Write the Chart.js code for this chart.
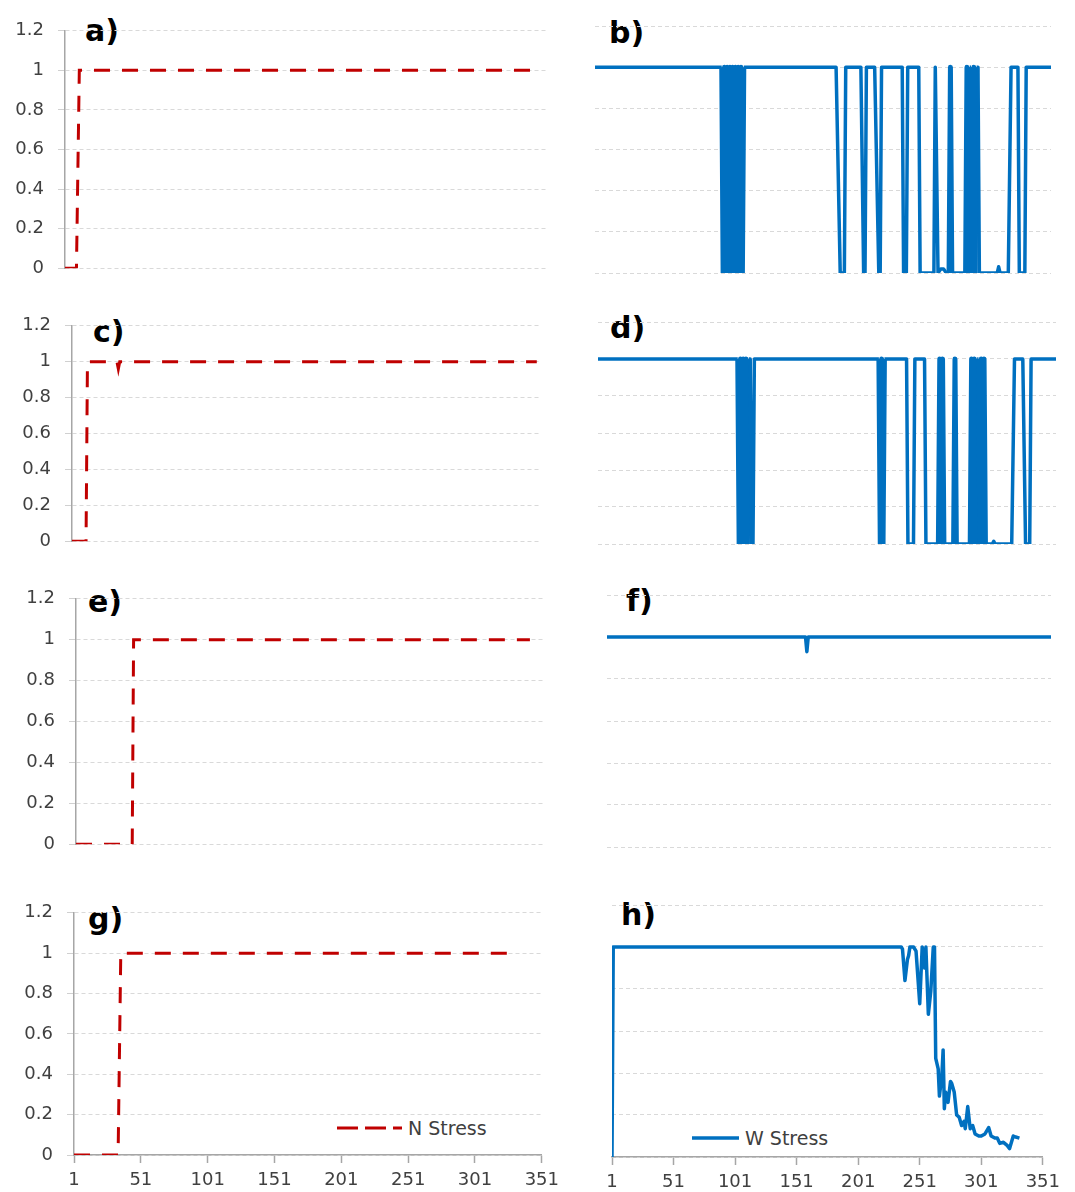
<!DOCTYPE html>
<html>
<head>
<meta charset="utf-8">
<script src="https://cdn.jsdelivr.net/npm/chart.js@4.4.1/dist/chart.umd.min.js"></script>
<style>
  body { margin: 0; background: #fff; width: 1075px; height: 1192px; position: relative; overflow: hidden; }
  .panel { position: absolute; }
  .tag { position: absolute; font: bold 30px "DejaVu Sans", sans-serif; line-height: 30px; color: #000; }
  .leg { position: absolute; height: 24px; display: flex; align-items: center; font: 19px "DejaVu Sans", sans-serif; color: #404040; }
  .leg svg { margin-right: 6px; }
</style>
</head>
<body>
<div class="tag" style="left:85px;top:16px">a)</div>
<div class="tag" style="left:609px;top:18px">b)</div>
<div class="tag" style="left:93px;top:317px">c)</div>
<div class="tag" style="left:610px;top:313px">d)</div>
<div class="tag" style="left:88px;top:587px">e)</div>
<div class="tag" style="left:626px;top:586px">f)</div>
<div class="tag" style="left:88px;top:904px">g)</div>
<div class="tag" style="left:621px;top:900px">h)</div>

<div class="leg" style="left:337px;top:1116px">
  <svg width="65" height="4"><line x1="0" y1="2" x2="65" y2="2" stroke="#c00000" stroke-width="3" stroke-dasharray="21 7"/></svg>N Stress
</div>
<div class="leg" style="left:692px;top:1126px">
  <svg width="47" height="4"><line x1="0" y1="2" x2="47" y2="2" stroke="#0070c0" stroke-width="3.5"/></svg>W Stress
</div>

<script>
// y axis ticks shared by all panels
const yTicks = [0, 0.2, 0.4, 0.6, 0.8, 1, 1.2];
const yTickLabels = ['0', '0.2', '0.4', '0.6', '0.8', '1', '1.2'];
const xTicks = [1, 51, 101, 151, 201, 251, 301, 351];

// N stress (red dashed) - day / value at each vertex
const aDays = [1, 9, 11, 332];
const aVals = [0, 0, 1, 1];
const cDays = [1, 11, 12, 33, 34, 35, 332];
const cVals = [0, 0, 1, 1, 0.96, 1, 1];
const eDays = [1, 42, 43, 332];
const eVals = [0, 0, 1, 1];
const gDays = [1, 34, 36, 332];
const gVals = [0, 0, 1, 1];

// W stress (blue)
const bDays = [1, 93, 94, 95, 96, 97, 98, 99, 100, 101, 102, 103, 104, 105, 106, 107, 108, 109,
  176, 179, 182, 183, 194, 196, 197, 198, 204, 207, 208, 209, 224, 225, 227, 228, 236, 237,
  247, 248, 250, 252, 254, 256, 258, 259, 260, 270, 271, 272, 273, 274, 275, 276, 277, 278,
  279, 280, 281, 293, 294, 295, 301, 303, 308, 309, 313, 314, 332];
const bVals = [1, 1, 0, 1, 0, 1, 0, 1, 0, 1, 0, 1, 0, 1, 0, 1, 0, 1,
  1, 0, 0, 1, 1, 0, 0, 1, 1, 0, 0, 1, 1, 0, 0, 1, 1, 0,
  0, 1, 0, 0.02, 0.02, 0, 0, 1, 0, 0, 1, 0, 1, 1, 0, 1, 0, 1,
  1, 0, 0, 0, 0.03, 0, 0, 1, 1, 0, 0, 1, 1];

const dDays = [1, 102, 103, 104, 105, 106, 107, 108, 109, 110, 111, 112, 113, 114,
  204, 205, 206, 207, 208, 224, 225, 229, 230, 237, 238, 247, 248, 249, 250, 251,
  258, 259, 260, 270, 271, 272, 273, 274, 275, 276, 277, 278, 279, 280, 281,
  286, 287, 288, 300, 302, 308, 310, 313, 314, 332];
const dVals = [1, 1, 0, 1, 0, 1, 0, 1, 0, 1, 1, 0, 0, 1,
  1, 0, 1, 0, 1, 1, 0, 0, 1, 1, 0, 0, 1, 0, 1, 0,
  0, 1, 0, 0, 1, 0, 1, 0, 1, 1, 0, 1, 0, 1, 0,
  0, 0.015, 0, 0, 1, 1, 0, 0, 1, 1];

const fDays = [1, 149, 150, 151, 332];
const fVals = [1, 1, 0.93, 1, 1];

const hDays = [1, 2, 236, 237, 239, 241, 242, 243, 246, 248, 251, 253, 255, 256, 258, 260,
  262, 263, 264, 266, 267, 269, 270, 271, 272, 274, 276, 277, 279, 281, 283, 285, 287,
  288, 290, 292, 294, 296, 299, 301, 304, 307, 309, 312, 314, 316, 319, 322, 324, 327, 329, 332];
const hVals = [0, 1, 1, 0.99, 0.84, 0.94, 0.96, 1, 1, 0.98, 0.73, 1, 0.9, 1, 0.68, 0.79,
  1, 1, 0.47, 0.42, 0.29, 0.39, 0.51, 0.23, 0.31, 0.26, 0.36, 0.35, 0.31, 0.2, 0.19, 0.15, 0.17,
  0.135, 0.24, 0.135, 0.15, 0.11, 0.1, 0.1, 0.11, 0.14, 0.1, 0.09, 0.09, 0.065, 0.07, 0.055, 0.04, 0.1, 0.095, 0.09];

// plot area of each panel in page pixels
const panels = [
  { L: 65, R: 546, T: 26, B: 273, xmax: 337, yLab: true, xLab: false, red: true, days: aDays, vals: aVals },
  { L: 595, R: 1051, T: 26, B: 273, xmax: 332, yLab: false, xLab: false, red: false, dense: true, days: bDays, vals: bVals },
  { L: 72, R: 541, T: 321, B: 546, xmax: 335, yLab: true, xLab: false, red: true, days: cDays, vals: cVals },
  { L: 598, R: 1056, T: 322, B: 544, xmax: 332, yLab: false, xLab: false, red: false, dense: true, days: dDays, vals: dVals },
  { L: 76, R: 545, T: 594, B: 849, xmax: 343, yLab: true, xLab: false, red: true, days: eDays, vals: eVals },
  { L: 607, R: 1051, T: 595, B: 847, xmax: 332, yLab: false, xLab: false, red: false, days: fDays, vals: fVals },
  { L: 74, R: 546, T: 908, B: 1155, xmax: 351, yLab: true, xLab: true, red: true, days: gDays, vals: gVals },
  { L: 612, R: 1047, T: 905, B: 1157, xmax: 351, yLab: false, xLab: true, red: false, days: hDays, vals: hVals }
];

Chart.defaults.font.family = '"DejaVu Sans", sans-serif';
const PAD = 20, YW = 60, XH = 40;

// a day-to-day 0/1 flip that sits next to another such flip
function isFlip(p, i) {
  return i >= 0 && i + 1 < p.days.length &&
    p.days[i + 1] - p.days[i] === 1 && Math.abs(p.vals[i + 1] - p.vals[i]) >= 0.5;
}

panels.forEach(function (p) {
  const yw = p.yLab ? YW : 0;
  const xh = p.xLab ? XH : 0;
  const box = document.createElement('div');
  box.className = 'panel';
  box.style.left = (p.L - yw - PAD) + 'px';
  box.style.top = (p.T - PAD) + 'px';
  box.style.width = (p.R - p.L + yw + 2 * PAD) + 'px';
  box.style.height = (p.B - p.T + xh + 2 * PAD) + 'px';
  const cv = document.createElement('canvas');
  box.appendChild(cv);
  document.body.appendChild(box);

  new Chart(cv, {
    type: 'line',
    data: {
      datasets: [{
        data: p.days.map(function (d, i) { return { x: d, y: p.vals[i] }; }),
        borderColor: p.red ? '#c00000' : '#0070c0',
        borderWidth: p.red ? 3 : 3.5,
        borderDash: p.red ? [16, 12] : [],
        borderCapStyle: 'butt',
        borderJoinStyle: p.red ? 'miter' : 'round',
        pointRadius: 0,
        tension: 0,
        fill: false,
        segment: {
          borderWidth: function (ctx) {
            if (!p.dense) return undefined;
            const i = ctx.p0DataIndex;
            if (isFlip(p, i) && (isFlip(p, i - 1) || isFlip(p, i + 1))) return 5;
            return undefined;
          }
        }
      }]
    },
    options: {
      animation: false,
      responsive: true,
      maintainAspectRatio: false,
      layout: { padding: PAD },
      plugins: { legend: { display: false }, tooltip: { enabled: false } },
      scales: {
        x: {
          type: 'linear',
          min: 1,
          max: p.xmax,
          display: p.xLab,
          afterBuildTicks: function (s) { s.ticks = xTicks.map(function (v) { return { value: v }; }); },
          afterFit: function (s) { s.height = xh; },
          ticks: { color: '#404040', font: { size: 18 }, padding: 7, maxRotation: 0, autoSkip: false },
          grid: { drawOnChartArea: false, drawTicks: true, tickLength: 8, tickColor: '#a6a6a6', tickWidth: 1.5 },
          border: { display: true, color: '#a6a6a6', width: 1.5 }
        },
        y: {
          min: 0,
          max: 1.2,
          afterBuildTicks: function (s) { s.ticks = yTicks.map(function (v) { return { value: v }; }); },
          afterFit: function (s) { s.width = yw; },
          ticks: {
            display: p.yLab,
            color: '#404040',
            font: { size: 18 },
            padding: 14,
            callback: function (v, i) { return yTickLabels[i]; }
          },
          grid: { color: '#d9d9d9', lineWidth: 1, drawTicks: p.yLab, tickLength: 7, tickColor: '#d0d0d0' },
          border: { display: p.yLab, color: '#a6a6a6', width: 1.5, dash: [4, 3] }
        }
      }
    }
  });
});
</script>
</body>
</html>
